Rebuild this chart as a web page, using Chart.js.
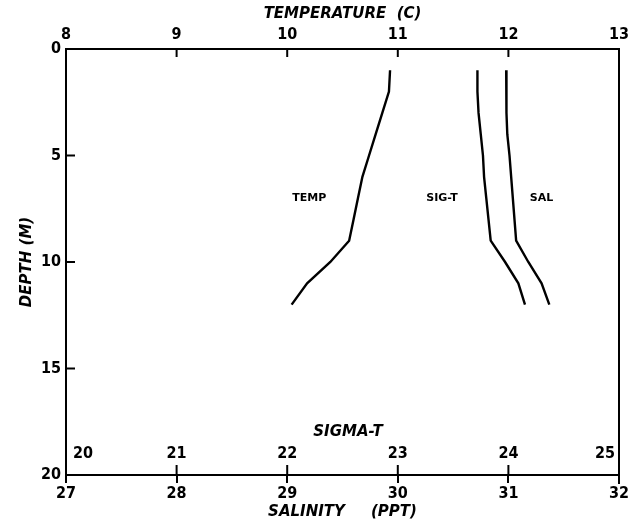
<!DOCTYPE html>
<html>
<head>
<meta charset="utf-8">
<title>Profile</title>
<script src="https://cdn.jsdelivr.net/npm/chart.js@4.4.1/dist/chart.umd.min.js"></script>
<style>
  html, body { margin: 0; padding: 0; background: #fff; }
  #wrap { width: 628px; height: 527px; }
</style>
</head>
<body>
<div id="wrap"><canvas id="profileChart"></canvas></div>
<script>
// sample depths (m) and the three profiles
const depths = [1, 2, 3, 4, 5, 6, 7, 8, 9, 10, 11, 12];
const temperature = [10.93, 10.92, 10.86, 10.80, 10.74, 10.68, 10.64, 10.60, 10.56, 10.39, 10.18, 10.04];
const sigmaT = [23.72, 23.72, 23.73, 23.75, 23.77, 23.78, 23.80, 23.82, 23.84, 23.97, 24.09, 24.15];
const salinity = [30.98, 30.98, 30.985, 30.99, 31.01, 31.025, 31.04, 31.055, 31.07, 31.18, 31.30, 31.37];

// axis ranges / tick values
const tempTicks = [8, 9, 10, 11, 12, 13];
const sigmaTicks = [20, 21, 22, 23, 24, 25];
const salTicks = [27, 28, 29, 30, 31, 32];
const depthTicks = [0, 5, 10, 15, 20];

const tickFont = { family: "'DejaVu Sans Condensed', 'DejaVu Sans', sans-serif", size: 16, weight: 'bold' };
const titleFont = { family: "'DejaVu Sans', sans-serif", size: 15, weight: 'bold', style: 'italic' };

function pts(values) {
    return depths.map((d, i) => ({ x: values[i], y: d }));
}

// drop the extra room chart.js keeps for the end labels
function noSidePad(s) {
    s.paddingLeft = 0;
    s.paddingRight = 0;
}

// frame edge, inward tick marks, sigma-t scale labels and curve names
const profileDecor = {
    id: 'profileDecor',
    afterDraw(chart) {
        const { ctx, chartArea: a, scales } = chart;
        ctx.save();
        ctx.strokeStyle = '#000';
        ctx.fillStyle = '#000';
        ctx.lineWidth = 2;
        const seg = (x1, y1, x2, y2) => {
            ctx.beginPath();
            ctx.moveTo(x1, y1);
            ctx.lineTo(x2, y2);
            ctx.stroke();
        };

        // right side of the box
        seg(a.right, a.top - 1, a.right, a.bottom + 9);

        // temperature ticks hang down into the plot
        tempTicks.slice(1, -1).forEach(v => {
            const x = scales.xTemp.getPixelForValue(v);
            seg(x, a.top, x, a.top + 8);
        });
        // depth ticks point right
        depthTicks.slice(1, -1).forEach(v => {
            const y = scales.y.getPixelForValue(v);
            seg(a.left, y, a.left + 9, y);
        });
        // sigma-t ticks stand up from the bottom axis
        sigmaTicks.slice(1, -1).forEach(v => {
            const x = scales.xSig.getPixelForValue(v);
            seg(x, a.bottom, x, a.bottom - 10);
        });

        // sigma-t tick labels sit inside the plot
        ctx.font = `${tickFont.weight} ${tickFont.size}px ${tickFont.family}`;
        ctx.textBaseline = 'middle';
        sigmaTicks.forEach((v, i) => {
            let x = scales.xSig.getPixelForValue(v);
            if (i === 0) {
                ctx.textAlign = 'left';
                x += 7;
            } else if (i === sigmaTicks.length - 1) {
                ctx.textAlign = 'right';
                x -= 4;
            } else {
                ctx.textAlign = 'center';
            }
            ctx.fillText(String(v), x, a.bottom - 21);
        });

        ctx.font = `${titleFont.style} ${titleFont.weight} ${titleFont.size}px ${titleFont.family}`;
        ctx.textAlign = 'center';
        ctx.fillText('SIGMA-T', scales.xSig.getPixelForValue(22.55), a.bottom - 43);

        // curve names
        ctx.font = "bold 11px 'DejaVu Sans', sans-serif";
        const yLab = scales.y.getPixelForValue(7.0);
        ctx.fillText('TEMP', scales.xTemp.getPixelForValue(10.2), yLab);
        ctx.fillText('SIG-T', scales.xSig.getPixelForValue(23.4), yLab);
        ctx.fillText('SAL', scales.xSal.getPixelForValue(31.3), yLab);
        ctx.restore();
    }
};

const lineStyle = {
    showLine: true,
    borderColor: '#000',
    borderWidth: 2.4,
    pointRadius: 0,
    fill: false,
    tension: 0,
};

new Chart(document.getElementById('profileChart'), {
    type: 'scatter',
    data: {
        datasets: [
            { label: 'TEMP', data: pts(temperature), xAxisID: 'xTemp', yAxisID: 'y', ...lineStyle },
            { label: 'SIG-T', data: pts(sigmaT), xAxisID: 'xSig', yAxisID: 'y', ...lineStyle },
            { label: 'SAL', data: pts(salinity), xAxisID: 'xSal', yAxisID: 'y', ...lineStyle },
        ],
    },
    options: {
        responsive: true,
        maintainAspectRatio: false,
        animation: false,
        layout: { padding: { right: 9 } },
        plugins: { legend: { display: false }, tooltip: { enabled: false } },
        scales: {
            xTemp: {
                type: 'linear',
                position: 'top',
                min: tempTicks[0],
                max: tempTicks[tempTicks.length - 1],
                afterBuildTicks: s => { s.ticks = tempTicks.map(v => ({ value: v })); },
                afterFit: s => { s.height = 49; noSidePad(s); },
                grid: { drawOnChartArea: false, drawTicks: false, color: '#000', lineWidth: 2 },
                border: { color: '#000', width: 2 },
                ticks: { color: '#000', font: tickFont, padding: 5, maxRotation: 0 },
                title: { display: true, text: 'TEMPERATURE  (C)', color: '#000', font: titleFont, padding: { top: 5 } },
            },
            xSal: {
                type: 'linear',
                position: 'bottom',
                min: salTicks[0],
                max: salTicks[salTicks.length - 1],
                afterBuildTicks: s => { s.ticks = salTicks.map(v => ({ value: v })); },
                afterFit: s => { s.height = 52; noSidePad(s); },
                grid: { drawOnChartArea: false, drawTicks: true, tickLength: 8, color: '#000', lineWidth: 2 },
                border: { color: '#000', width: 2 },
                ticks: { color: '#000', font: tickFont, padding: 1, maxRotation: 0 },
                title: { display: true, text: 'SALINITY     (PPT)', color: '#000', font: titleFont, padding: { bottom: 6 } },
            },
            xSig: {
                type: 'linear',
                display: false,
                position: 'bottom',
                min: sigmaTicks[0],
                max: sigmaTicks[sigmaTicks.length - 1],
            },
            y: {
                type: 'linear',
                position: 'left',
                reverse: true,
                min: depthTicks[0],
                max: depthTicks[depthTicks.length - 1],
                afterBuildTicks: s => { s.ticks = depthTicks.map(v => ({ value: v })); },
                afterFit: s => { s.width = 66; },
                grid: { drawOnChartArea: false, drawTicks: false, color: '#000', lineWidth: 2 },
                border: { color: '#000', width: 2 },
                ticks: { color: '#000', font: tickFont, padding: 5 },
                title: { display: true, text: 'DEPTH (M)', color: '#000', font: titleFont, padding: { top: 18 } },
            },
        },
    },
    plugins: [profileDecor],
});
</script>
</body>
</html>
